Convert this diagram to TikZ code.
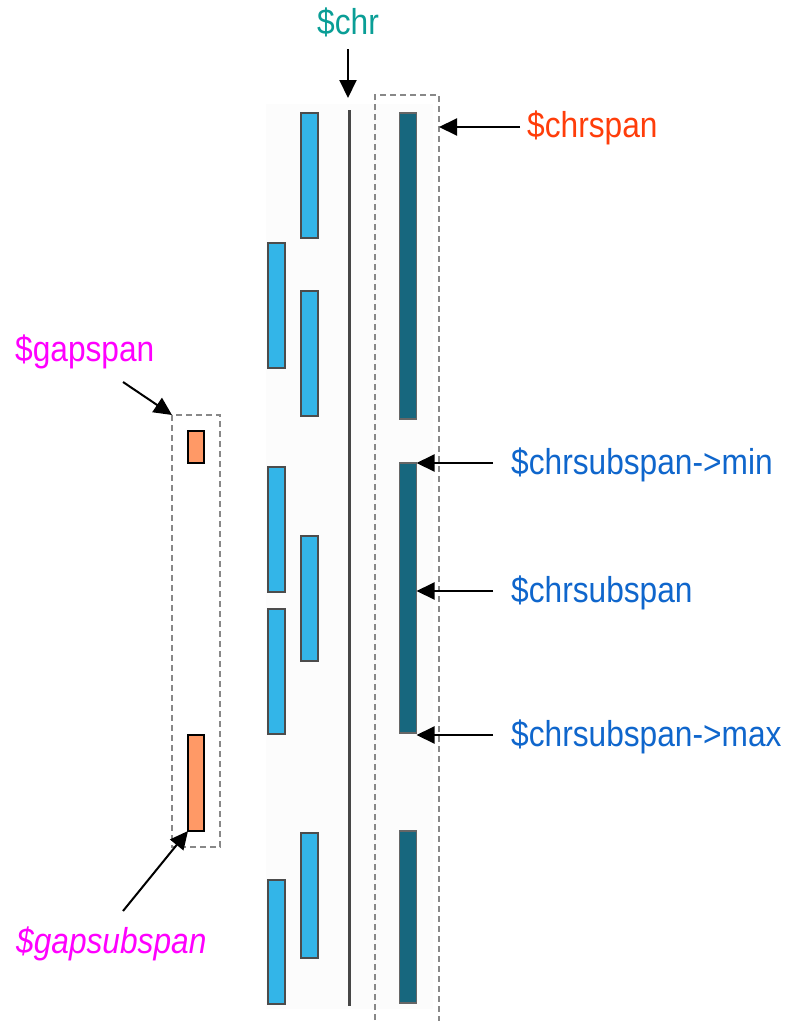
\documentclass[tikz,border=0pt]{standalone}
\usepackage{fontspec}
\setmainfont[FakeStretch=0.88]{Liberation Sans}
\usetikzlibrary{arrows.meta}
\definecolor{chrcol}{HTML}{0A9E96}
\definecolor{spancol}{HTML}{FF3D0A}
\definecolor{subcol}{HTML}{0F66CC}
\definecolor{gapcol}{HTML}{FF00FF}
\definecolor{lblue}{HTML}{33B5E8}
\definecolor{dteal}{HTML}{17677E}
\definecolor{orng}{HTML}{FF9966}
\definecolor{dashgray}{HTML}{888888}
\definecolor{trackbg}{HTML}{FCFCFC}
\tikzset{
  lbar/.style={draw=black!70, line width=1.2pt, fill=lblue, minimum width=17pt, inner sep=0pt, outer sep=0pt},
  dbar/.style={draw=black!60, line width=1.2pt, fill=dteal, minimum width=17pt, inner sep=0pt, outer sep=0pt},
  obar/.style={draw=black, line width=1.6pt, fill=orng, minimum width=16pt, inner sep=0pt, outer sep=0pt},
  spanbox/.style={draw=dashgray, line width=1.5pt, dash pattern=on 6pt off 4pt},
  lbl/.style={font=\fontsize{36}{40}\selectfont, inner sep=0pt},
  ptr/.style={line width=2pt, -{Triangle[length=18pt,width=17pt]}},
}
\begin{document}
\begin{tikzpicture}[x=1pt,y=-1pt]
\useasboundingbox (0,0) rectangle (791,1021);
\clip (0,0) rectangle (791,1021);
% faint background of the track area
\fill[trackbg] (266,104) rectangle (433,1009);
% chromosome line
\draw[line width=2.2pt, black!72] (349.5,110) coordinate (chrtop) -- (349.5,1006);
% light blue bars, column A
\node[lbar, minimum height=125pt] (a1) at (309.5,175.5) {};
\node[lbar, minimum height=125pt] (a2) at (309.5,353.5) {};
\node[lbar, minimum height=125pt] (a3) at (309.5,598.5) {};
\node[lbar, minimum height=125pt] (a4) at (309.5,895.5) {};
% light blue bars, column B
\node[lbar, minimum height=125pt] (b1) at (276.5,305.5) {};
\node[lbar, minimum height=125pt] (b2) at (276.5,529.5) {};
\node[lbar, minimum height=125pt] (b3) at (276.5,671.5) {};
\node[lbar, minimum height=124pt] (b4) at (276.5,942) {};
% dark bars
\node[dbar, minimum height=306pt] (d1) at (408,266) {};
\node[dbar, minimum height=270pt] (d2) at (408,598) {};
\node[dbar, minimum height=172pt] (d3) at (408,917) {};
% chrspan box
\draw[spanbox] (375,1030) -- (375,95) -- (439,95) -- (439,1030);
\coordinate (chrspanR) at (439,127);
% gapspan box
\draw[spanbox] (172,415) coordinate (gapTL) rectangle (220,847);
% orange bars
\node[obar, minimum height=32pt] (o1) at (196,447) {};
\node[obar, minimum height=96pt] (o2) at (196,783) {};
% labels
\node[lbl, text=chrcol] (lchr) at (348,22) {\$chr};
\node[lbl, text=spancol, anchor=west] (lspan) at (527,128) {\$chrspan};
\node[lbl, text=gapcol, anchor=west] (lgap) at (15,352) {\$gapspan};
\node[lbl, text=gapcol, anchor=west, font=\fontsize{36}{40}\selectfont\itshape] (lgapsub) at (16,944) {\$gapsubspan};
\node[lbl, text=subcol, anchor=west] (lmin) at (511,465) {\$chrsubspan->min};
\node[lbl, text=subcol, anchor=west] (lsub) at (511,593) {\$chrsubspan};
\node[lbl, text=subcol, anchor=west] (lmax) at (511,737) {\$chrsubspan->max};
% arrows
\coordinate (chrA) at (348,49);
\coordinate (chrB) at (348,98);
\draw[ptr] (chrA) -- (chrB);
\coordinate (spanA) at (520,127);
\draw[ptr] (spanA) -- (chrspanR);
\coordinate (gapA) at (123,382);
\draw[ptr] (gapA) -- (gapTL);
\coordinate (gapsubA) at (123,911);
\draw[ptr] (gapsubA) -- (o2.south west);
\coordinate (minA) at (493,463);
\draw[ptr] (minA) -- (d2.east |- minA);
\coordinate (subA) at (493,591);
\draw[ptr] (subA) -- (d2.east |- subA);
\coordinate (maxA) at (493,735);
\draw[ptr] (maxA) -- (d2.east |- maxA);
\end{tikzpicture}
\end{document}
